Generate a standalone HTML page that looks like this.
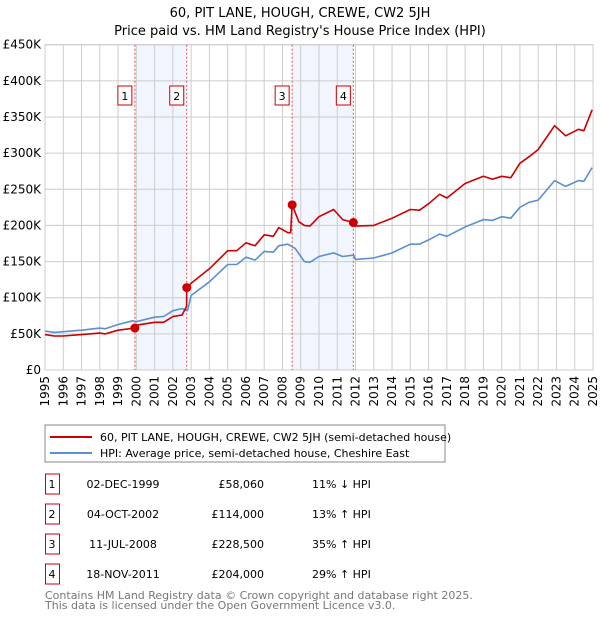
<!DOCTYPE html>
<html><head><meta charset="utf-8"><style>
body{margin:0;background:#fff;}
svg text{font-family:"DejaVu Sans","Liberation Sans",sans-serif;}
</style></head><body>
<svg id="chart" width="600" height="620" xmlns="http://www.w3.org/2000/svg">
<text x="300" y="17" text-anchor="middle" font-size="13">60, PIT LANE, HOUGH, CREWE, CW2 5JH</text>
<text x="300" y="35" text-anchor="middle" font-size="13">Price paid vs. HM Land Registry's House Price Index (HPI)</text>
<g id="plot"></g>
<rect x="45" y="425" width="400" height="37" fill="none" stroke="#888"/>
<line x1="50" y1="437" x2="92" y2="437" stroke="#cc0000" stroke-width="2"/>
<text x="100" y="441" font-size="11">60, PIT LANE, HOUGH, CREWE, CW2 5JH (semi-detached house)</text>
<line x1="50" y1="453" x2="92" y2="453" stroke="#5b8fd0" stroke-width="2"/>
<text x="100" y="457" font-size="11">HPI: Average price, semi-detached house, Cheshire East</text>
<g id="table" font-size="11"></g>
<text x="45" y="599" font-size="11" fill="#777">Contains HM Land Registry data © Crown copyright and database right 2025.</text>
<text x="45" y="609" font-size="11" fill="#777">This data is licensed under the Open Government Licence v3.0.</text>
</svg>
<script>
const hpiYears=[1995,1995.5,1996,1997,1998,1998.3,1999,1999.8,2000,2001,2001.5,2002,2002.5,2002.8,2003,2004,2005,2005.5,2006,2006.5,2007,2007.5,2007.8,2008.3,2008.7,2009.2,2009.5,2010,2010.8,2011.3,2011.9,2012,2013,2014,2015,2015.5,2016,2016.6,2017,2018,2019,2019.5,2020,2020.5,2021,2021.5,2022,2022.9,2023.5,2024.2,2024.5,2024.95];
const hpiValues=[54,52,53,55,58,57,63,68,67,73,74,82,85,82,103,122,146,146,156,152,164,163,172,174,168,150,149,157,162,157,159,153,155,162,174,174,180,188,185,198,208,207,212,210,225,232,235,262,254,262,261,280];
const redYears=[1995,1995.5,1996,1997,1998,1998.3,1999,1999.92,2000,2001,2001.5,2002,2002.5,2002.75,2002.76,2003,2004,2005,2005.5,2006,2006.5,2007,2007.5,2007.8,2008.3,2008.45,2008.53,2008.9,2009.2,2009.5,2010,2010.8,2011.3,2011.88,2012,2013,2014,2015,2015.5,2016,2016.6,2017,2018,2019,2019.5,2020,2020.5,2021,2021.5,2022,2022.9,2023.5,2024.2,2024.5,2024.95];
const redValues=[49,47,47,49,51,50,55,58,62,66,66,74,76,88,114,120,140,165,165,176,172,187,185,197,190,190,228.5,205,200,199,212,222,208,204,199,200,210,222,221,230,243,238,258,268,264,268,266,286,295,305,338,324,333,331,360];
const saleYears=[1999.92,2002.76,2008.53,2011.88];
const saleValues=[58.06,114,228.5,204];
const saleLabels=["1","2","3","4"];
const saleDates=["02-DEC-1999","04-OCT-2002","11-JUL-2008","18-NOV-2011"];
const salePrices=["£58,060","£114,000","£228,500","£204,000"];
const saleHpi=["11% ↓ HPI","13% ↑ HPI","35% ↑ HPI","29% ↑ HPI"];
const yTicks=[0,50,100,150,200,250,300,350,400,450];
const yTickLabels=["£0","£50K","£100K","£150K","£200K","£250K","£300K","£350K","£400K","£450K"];
const xTicks=[1995,1996,1997,1998,1999,2000,2001,2002,2003,2004,2005,2006,2007,2008,2009,2010,2011,2012,2013,2014,2015,2016,2017,2018,2019,2020,2021,2022,2023,2024,2025];

const X0=45,X1=593,Y0=370,Y1=44.7;
const xs=y=>X0+(y-1995)/30*(X1-X0);
const ys=v=>Y0-v/450*(Y0-Y1);
const NS="http://www.w3.org/2000/svg";
const plot=document.getElementById('plot');
function mk(tag,attrs,parent){const e=document.createElementNS(NS,tag);for(const k in attrs)e.setAttribute(k,attrs[k]);(parent||plot).appendChild(e);return e;}

// shaded regions
for(let i=0;i<saleYears.length;i+=2){
  const r=mk('rect',{x:xs(saleYears[i]),y:Y1,width:xs(saleYears[i+1])-xs(saleYears[i]),height:Y0-Y1,fill:'#eef3fc',opacity:0.8});
  
  
}
// grid
yTicks.forEach((t,i)=>{
  const l=mk('line',{x1:X0,x2:X1,y1:ys(t),y2:ys(t),stroke:'#ccc'});
  
  
  const tx=mk('text',{x:X0-4,y:ys(t)+4,'text-anchor':'end','font-size':12});
  tx.textContent=yTickLabels[i];
  
  
});
xTicks.forEach(t=>{
  const l=mk('line',{x1:xs(t),x2:xs(t),y1:Y1,y2:Y0,stroke:'#ccc'});
  
  
  const tx=mk('text',{x:0,y:0,'text-anchor':'end','font-size':12,transform:`translate(${xs(t)+4},${Y0+6}) rotate(-90)`});
  tx.textContent=t;
  
  
});
const fr=mk('rect',{x:X0,y:Y1,width:X1-X0,height:Y0-Y1,fill:'none',stroke:'#ccc'});


// sale vlines + labels
saleYears.forEach((y,i)=>{
  const l=mk('line',{x1:xs(y),x2:xs(y),y1:Y1,y2:Y0,stroke:'#e05050','stroke-dasharray':'2,2'});
  
  
  const b=mk('rect',{x:xs(y)-17,y:86,width:14,height:19,fill:'#fff',stroke:'#cc0000'});
  
  
  const t=mk('text',{x:xs(y)-10,y:100,'text-anchor':'middle','font-size':11});
  t.textContent=saleLabels[i];
  
  
});
function line(xa,va,col,name){
  const d=xa.map((y,i)=>(i?'L':'M')+xs(y).toFixed(1)+','+ys(va[i]).toFixed(1)).join('');
  const p=mk('path',{d:d,fill:'none',stroke:col,'stroke-width':1.6,'stroke-linejoin':'round'});
  
  
}
line(hpiYears,hpiValues,'#5b8fd0','hpi-line');
line(redYears,redValues,'#cc0000','price-paid-line');
saleYears.forEach((y,i)=>{
  const c=mk('circle',{cx:xs(y),cy:ys(saleValues[i]),r:4.5,fill:'#cc0000'});
  
  
});
// table
const tb=document.getElementById('table');
saleLabels.forEach((lab,i)=>{
  const yy=483+i*30;
  const b=mk('rect',{x:45.5,y:yy-9,width:14,height:20,fill:'#fff',stroke:'#cc0000'},tb);
  
  
  const cells=[[52,lab,'middle','table-row-number'],[123,saleDates[i],'middle','table-row-date'],[264,salePrices[i],'end','table-row-price'],[312,saleHpi[i],'start','table-row-hpi']];
  cells.forEach(c=>{
    const t=mk('text',{x:c[0],y:yy+5,'text-anchor':c[2]},tb);
    t.textContent=c[1];
    
    
  });
});
</script>
</body></html>
